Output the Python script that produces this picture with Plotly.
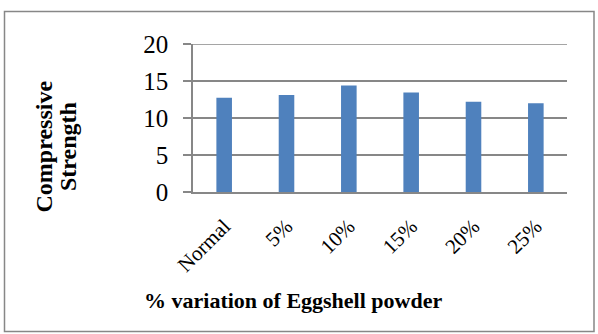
import plotly.graph_objects as go

categories = ["Normal", "5%", "10%", "15%", "20%", "25%"]
strength = [12.75, 13.1, 14.4, 13.45, 12.2, 12.0]
y_ticks = [0, 5, 10, 15, 20]

W, H = 598, 334
L, R, T, B = 193, 31, 44, 142
pw, ph = W - L - R, H - T - B

def px_x(x):
    return (x - L) / pw

def px_y(y):
    return (H - B - y) / ph

fig = go.Figure(go.Bar(x=categories, y=strength, marker_color="#4F81BD",
                       marker_line_width=0))

font = "Liberation Serif, Times New Roman, serif"
grid = "#878787"
fig.update_layout(
    width=W, height=H,
    margin=dict(l=L, r=R, t=T, b=B, autoexpand=False),
    paper_bgcolor="white", plot_bgcolor="white",
    bargap=0.75, showlegend=False,
    font=dict(family=font, color="black"),
    xaxis=dict(showgrid=False, showline=True, linecolor=grid, linewidth=1.5,
               tickangle=-45, tickfont=dict(size=21, family=font),
               ticks="outside", ticklen=12, tickcolor="rgba(0,0,0,0)", automargin=False),
    yaxis=dict(range=[0, 20], tickvals=y_ticks, showgrid=True, gridcolor=grid,
               gridwidth=1.5, showline=True, linecolor=grid, linewidth=1.5,
               ticks="outside", ticklen=8, tickcolor=grid, tickwidth=1.5,
               ticklabelstandoff=10,
               tickfont=dict(size=25, family=font), zeroline=False, automargin=False),
)

# top gridline (plotly omits the gridline on the plot edge)
fig.add_shape(type="line", xref="paper", yref="y", x0=0, x1=1, y0=y_ticks[-1], y1=y_ticks[-1],
              line=dict(color=grid, width=1.5), layer="below")

for txt, xc in [("<b>Compressive</b>", 43.5), ("<b>Strength</b>", 68)]:
    fig.add_annotation(text=txt, xref="paper", yref="paper",
                       x=px_x(xc), y=px_y(147), textangle=-90, showarrow=False,
                       font=dict(size=24, family=font), xanchor="center", yanchor="middle")
fig.add_annotation(text="<b>% variation of Eggshell powder</b>", xref="paper", yref="paper",
                   x=px_x(293), y=px_y(300), showarrow=False,
                   font=dict(size=22, family=font), xanchor="center", yanchor="middle")

fig.add_shape(type="rect", xref="paper", yref="paper",
              x0=px_x(4.5), x1=px_x(594), y0=px_y(331.5), y1=px_y(11.5),
              line=dict(color=grid, width=1.5))

fig.write_html("out.html", config={"displayModeBar": False},
               post_script="document.body.style.margin='0';document.body.style.overflow='hidden';")
